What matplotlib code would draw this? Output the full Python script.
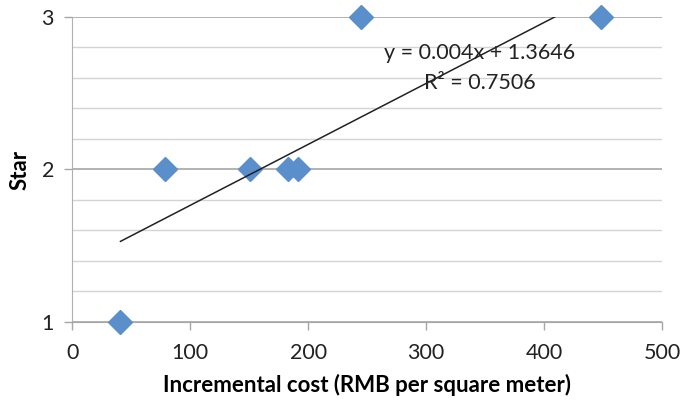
import numpy as np
import matplotlib.pyplot as plt
from matplotlib.ticker import MultipleLocator

plt.rcParams['font.family'] = ['Lato', 'DejaVu Sans']

cost = [41, 79, 151, 183, 191, 245, 448]
star = [1, 2, 2, 2, 2, 3, 3]
slope = 0.004
intercept = 1.3646
r2 = 0.7506

fig = plt.figure(figsize=(6.8, 4.04), dpi=100)
ax = fig.add_axes([0.106, 0.203, 0.868, 0.755])

ax.set_xlim(0, 500)
ax.set_ylim(1, 3)
ax.xaxis.set_major_locator(MultipleLocator(100))
ax.yaxis.set_major_locator(MultipleLocator(1))
ax.yaxis.set_minor_locator(MultipleLocator(0.2))

ax.grid(which='major', axis='y', color='#a6a6a6', lw=1.2)
ax.grid(which='minor', axis='y', color='#d4d4d4', lw=1.0)
ax.set_axisbelow(True)

for s in ['top', 'right']:
    ax.spines[s].set_visible(False)
ax.spines['left'].set_color('#b0b0b0')
ax.spines['bottom'].set_color('#a6a6a6')
ax.tick_params(axis='both', which='major', colors='#a6a6a6', labelcolor='#222222',
               labelsize=15.5, length=6, width=1)
ax.tick_params(axis='y', which='minor', length=0)
ax.tick_params(axis='x', pad=9)
ax.tick_params(axis='y', pad=7)

ax.plot(cost, star, 'D', color='#5b8fcc', ms=12.5, mec='#5b8fcc', zorder=3, clip_on=False)

tx = np.array([min(cost), max(cost)])
ax.plot(tx, slope * tx + intercept, color='#222222', lw=1.1, zorder=4)

ax.text(345, 2.764, 'y = 0.004x + 1.3646', ha='center', va='center', fontsize=15.5, color='#222222')
ax.text(345, 2.567, 'R² = 0.7506', ha='center', va='center', fontsize=15.5, color='#222222')

ax.set_xlabel('Incremental cost (RMB per square meter)', fontsize=16, fontweight='bold', labelpad=8)
ax.set_ylabel('Star', fontsize=16, fontweight='bold', labelpad=8)

fig.savefig('out.png', dpi=100)
